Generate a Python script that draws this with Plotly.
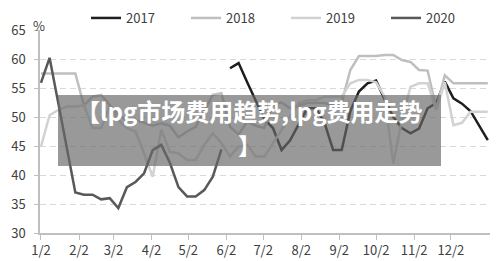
import plotly.graph_objects as go

# ---- data (weekly values, week 0 = Jan 2) ----
tick_days = [0, 31, 59, 90, 120, 151, 181, 212, 243, 273, 304, 334]
tick_labels = ["1/2", "2/2", "3/2", "4/2", "5/2", "6/2", "7/2", "8/2", "9/2", "10/2", "11/2", "12/2"]

start_2017 = 22
vals_2017 = [58.4, 59.3, 56.0, 52.7, 49.6, 48.1, 44.3, 46.0, 48.8, 51.5, 51.5, 49.0,
             44.3, 44.3, 51.0, 54.4, 55.8, 56.3, 53.0, 50.0, 48.1, 47.2, 48.0, 51.5,
             52.4, 56.1, 53.2, 52.3, 51.0, 48.6, 46.0]

start_2018 = 0
vals_2018 = [57.5, 57.5, 57.5, 57.5, 57.5, 52.0, 53.5, 53.8, 52.0, 50.3, 49.5, 49.5,
             49.0, 48.5, 48.9, 48.5, 46.5, 47.5, 48.3, 51.0, 53.8, 54.1, 48.3, 47.0,
             49.2, 48.5, 48.1, 52.1, 52.5, 51.5, 52.0, 52.4, 52.4, 52.4, 52.0, 52.5,
             58.1, 60.5, 60.5, 60.5, 60.7, 60.7, 59.8, 59.5, 58.1, 58.0, 51.5, 57.2,
             55.8, 55.8, 55.8, 55.8, 55.8]

start_2019 = 0
vals_2019 = [44.9, 50.3, 51.2, 51.8, 51.8, 52.0, 48.1, 48.1, 51.8, 49.5, 48.1, 47.5,
             43.7, 39.7, 47.8, 44.0, 43.7, 42.6, 42.6, 45.2, 47.2, 45.5, 43.2, 44.9,
             45.2, 43.2, 43.2, 45.5, 48.0, 50.3, 52.4, 52.9, 52.9, 53.5, 53.5, 53.5,
             55.8, 56.4, 56.4, 56.0, 53.5, 42.0, 49.5, 55.2, 55.8, 55.8, 51.2, 56.0,
             48.6, 49.0, 50.9, 50.9, 50.9]

start_2020 = 0
vals_2020 = [55.9, 60.2, 52.5, 44.8, 37.0, 36.6, 36.6, 35.8, 36.0, 34.3, 37.9, 38.8,
             40.3, 44.3, 45.2, 42.1, 37.9, 36.3, 36.3, 37.4, 39.7, 44.4]

series = [
    ("2017", start_2017, vals_2017, "#1e1e1e"),
    ("2018", start_2018, vals_2018, "#bfbfbf"),
    ("2019", start_2019, vals_2019, "#d2d2d2"),
    ("2020", start_2020, vals_2020, "#595959"),
]

W, H = 500, 261
ml, mr, mt, mb = 40, 10, 30, 28
pw, ph = W - ml - mr, H - mt - mb

def px(xp):
    return (xp - ml) / pw

def py(yp):
    return (H - mb - yp) / ph

legend_starts = [86, 186, 286, 386]
legend_keys = ["legend", "legend2", "legend3", "legend4"]

fig = go.Figure()
for (name, start, vals, color), key in zip(series, legend_keys):
    xs = [7 * (start + i) for i in range(len(vals))]
    fig.add_trace(go.Scatter(x=xs, y=vals, mode="lines", name=name, legend=key,
                             line=dict(color=color, width=2.5)))

legend_layout = {}
for key, lx in zip(legend_keys, legend_starts):
    legend_layout[key] = dict(x=px(lx), xanchor="left", y=py(18), yanchor="middle",
                              orientation="h", itemwidth=30,
                              font=dict(size=13, color="#404040"),
                              bgcolor="rgba(0,0,0,0)", borderwidth=0)

fig.update_layout(
    width=W, height=H,
    margin=dict(l=ml, r=mr, t=mt, b=mb, autoexpand=False),
    paper_bgcolor="white", plot_bgcolor="white",
    font=dict(family="Noto Sans CJK SC, Open Sans, sans-serif", size=13, color="#404040"),
    showlegend=True,
    xaxis=dict(range=[-0.8, 365.8], tickvals=tick_days, ticktext=tick_labels,
               showgrid=False, zeroline=False, showline=True, linecolor="#bfbfbf",
               linewidth=1.5, ticks="outside", ticklen=5, tickcolor="#bfbfbf",
               tickfont=dict(size=13, color="#404040"), fixedrange=True),
    yaxis=dict(range=[30, 65], tickvals=[30, 35, 40, 45, 50, 55, 60, 65],
               showgrid=True, gridcolor="#d9d9d9", griddash="6px,4px", gridwidth=1,
               zeroline=False, showline=True, linecolor="#bfbfbf", linewidth=1.5,
               ticks="outside", ticklen=4, tickcolor="#bfbfbf",
               tickfont=dict(size=13, color="#404040"), ticklabelstandoff=6),
    **legend_layout,
)

fig.add_annotation(text="%", xref="paper", yref="paper", x=px(31), y=py(14),
                   showarrow=False, font=dict(size=13, color="#404040"))

fig.add_shape(type="rect", xref="paper", yref="paper",
              x0=px(58), x1=px(441), y0=py(166), y1=py(95),
              fillcolor="rgba(105,105,105,0.68)", line=dict(width=0), layer="above")

fig.add_annotation(text="【lpg市场费用趋势,lpg费用走势", xref="paper", yref="paper",
                   x=px(249.5), y=py(111), xanchor="center", yanchor="middle",
                   showarrow=False, align="center",
                   font=dict(size=24, color="white", family="Noto Sans CJK SC", weight="bold"))
fig.add_annotation(text="】", xref="paper", yref="paper",
                   x=px(249.5), y=py(145), xanchor="center", yanchor="middle",
                   showarrow=False, align="center",
                   font=dict(size=23, color="white", family="Noto Sans CJK SC", weight="bold"))

fig.write_html("out.html")
